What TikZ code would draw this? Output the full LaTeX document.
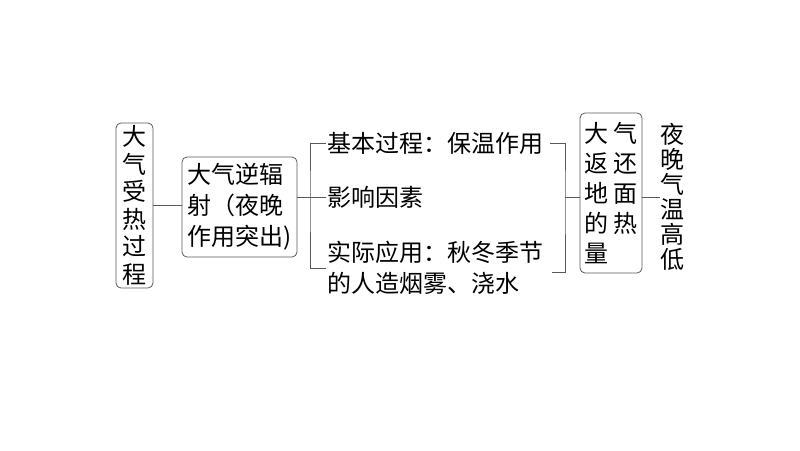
\documentclass[tikz,border=0pt]{standalone}
\usepackage{fontspec}
\usepackage{tikz}
\usetikzlibrary{calc,positioning}
\newfontfamily\cjk{Noto Sans CJK SC}

\begin{document}
\begin{tikzpicture}[x=1pt,y=-1pt,semithick,line width=0.8pt,
                    every node/.style={text=black}]
  \tikzstyle{box}=[rectangle,rounded corners=5pt,draw=black!65,fill=white,inner sep=0pt]
  \tikzstyle{word}=[inner sep=1pt,font=\cjk\fontsize{24}{31}\selectfont]
  \tikzstyle{link}=[draw=black!65]

  \useasboundingbox[fill=white] (0,0) rectangle (800,450);

  \node[box,minimum width=37,minimum height=165,align=center,
        font=\cjk\fontsize{24}{27.5}\selectfont] (1) at (134.5,205.5)
        {大\\气\\受\\热\\过\\程};
  \node[box,minimum width=115,minimum height=100,align=left,
        font=\cjk\fontsize{24}{31}\selectfont] (2) at (239.5,207)
        {大气逆辐\\射（夜晚\\作用突出)};
  \node[word,anchor=west] (t1) at (326,143) {基本过程：保温作用};
  \node[word,anchor=west] (t2) at (326,197) {影响因素};
  \node[word,anchor=north west,align=left] (t3) at (326,240)
        {实际应用：秋冬季节\\的人造烟雾、浇水};
  \node[box,minimum width=62,minimum height=160,align=left,
        font=\cjk\fontsize{24}{30}\selectfont] (3) at (611,193)
        {大\hspace{5pt}气\\返\hspace{5pt}还\\地\hspace{5pt}面\\的\hspace{5pt}热\\量};
  \node[word,align=center,font=\cjk\fontsize{24}{25}\selectfont] (4) at (672,197)
        {夜\\晚\\气\\温\\高\\低};

  \coordinate (l0) at (310,197);
  \coordinate (l3) at (326,268);
  \coordinate (r0) at (565,197);
  \coordinate (r1) at (550,143);
  \coordinate (r3) at (552,272);
  \coordinate (o0) at (660,197);

  \path[link]
    (1.east) edge (1.east -| 2.west)
    (2.east |- l0) edge (l0)
    (t2.west) edge (l0);
  \draw[link] (t1.west) -| (l0) |- (l3);
  \draw[link] (r1) -| (r0) |- (r3);
  \draw[link] (r0) -- (3.west |- r0);
  \draw[link] (3.east |- o0) -- (o0);

\end{tikzpicture}
\end{document}
